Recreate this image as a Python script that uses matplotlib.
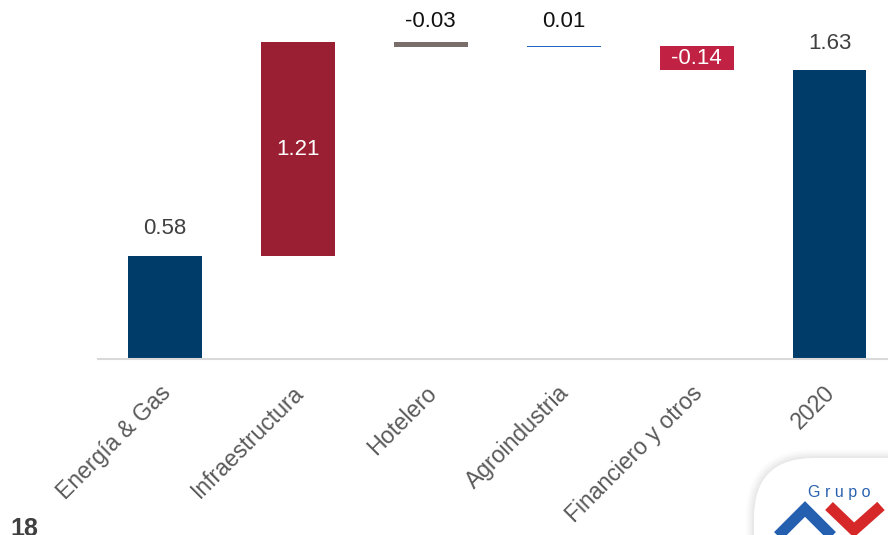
import matplotlib
matplotlib.use("Agg")
import matplotlib.pyplot as plt
import matplotlib.transforms as mtransforms
from matplotlib.patches import FancyBboxPatch
import numpy as np

plt.rcParams['font.family'] = ['Liberation Sans', 'DejaVu Sans']

categories = ["Energía & Gas", "Infraestructura", "Hotelero", "Agroindustria", "Financiero y otros", "2020"]
values = [0.58, 1.21, -0.03, 0.01, -0.14, 1.63]
is_total = [False, False, False, False, False, True]
labels = ["0.58", "1.21", "-0.03", "0.01", "-0.14", "1.63"]
colors = ["#003C69", "#9A1F32", "#7A6E6A", "#1F67C4", "#C12243", "#003C69"]
label_inside = [False, True, False, False, True, False]
label_colors = ["#404040", "white", "#111111", "#111111", "white", "#404040"]

fig = plt.figure(figsize=(8.88, 5.35), dpi=100)
ax = fig.add_axes([98/888, (535-359)/535, (888-98)/888, 359/535])

x = np.arange(len(categories))
bottoms = []
heights = []
cum = 0.0
for v, t in zip(values, is_total):
    if t:
        bottoms.append(0.0)
        heights.append(v)
    else:
        bottoms.append(cum)
        heights.append(v)
        cum += v

width = 0.556
ax.bar(x, heights, bottom=bottoms, width=width, color=colors, linewidth=0, zorder=2)

label_gap = [0.16, 0, 0.115, 0.135, 0, 0.155]
for i in range(len(x)):
    b, h = bottoms[i], heights[i]
    top = max(b, b + h)
    if label_inside[i]:
        ax.text(x[i], b + h / 2, labels[i], ha='center', va='center', color=label_colors[i], fontsize=16, zorder=3)
    else:
        ax.text(x[i], top + label_gap[i], labels[i], ha='center', va='center', color=label_colors[i], fontsize=16, zorder=3)

ax.set_xlim(-0.504, 5.44)
ax.set_ylim(0, 359/177)
for s in ['top', 'right', 'left']:
    ax.spines[s].set_visible(False)
ax.spines['bottom'].set_color('#D9D9D9')
ax.spines['bottom'].set_linewidth(1.5)
ax.set_yticks([])
ax.set_xticks(x)
ax.set_xticklabels(categories, rotation=45, ha='right', rotation_mode='anchor', color='#595959', fontsize=16.6)
ax.tick_params(axis='x', length=0, pad=16)
shift = mtransforms.ScaledTranslation(-0.06, 0, fig.dpi_scale_trans)
for lab in ax.get_xticklabels():
    lab.set_transform(lab.get_transform() + shift)

# overlay in pixel coordinates for page number and logo
ov = fig.add_axes([0, 0, 1, 1], zorder=10)
ov.set_xlim(0, 888)
ov.set_ylim(535, 0)
ov.axis('off')
ov.patch.set_alpha(0)

ov.text(10, 541, "18", fontsize=18, fontweight='bold', color='#404040', ha='left', va='bottom')

# badge shadow
for k, a in enumerate([0.03, 0.04, 0.05, 0.06]):
    pad = 8 - 2 * k
    sh = FancyBboxPatch((754 - pad, 458 - pad), 300 + 2 * pad, 200 + 2 * pad,
                        boxstyle="round,pad=0,rounding_size=%d" % (60 + pad),
                        facecolor='#888888', edgecolor='none', alpha=a)
    ov.add_patch(sh)
badge = FancyBboxPatch((754, 458), 300, 200, boxstyle="round,pad=0,rounding_size=60",
                       facecolor='white', edgecolor='none')
ov.add_patch(badge)
ov.text(839, 492, "G r u p o", fontsize=11.5, color='#2A62B0', ha='center', va='center')
ov.plot([777, 805, 833], [537, 509, 537], color='#2560B0', linewidth=8, solid_capstyle='butt', solid_joinstyle='miter')
ov.plot([829, 854, 881], [506, 530, 506], color='#D62828', linewidth=8, solid_capstyle='butt', solid_joinstyle='miter')

fig.savefig("out.png", dpi=100)
